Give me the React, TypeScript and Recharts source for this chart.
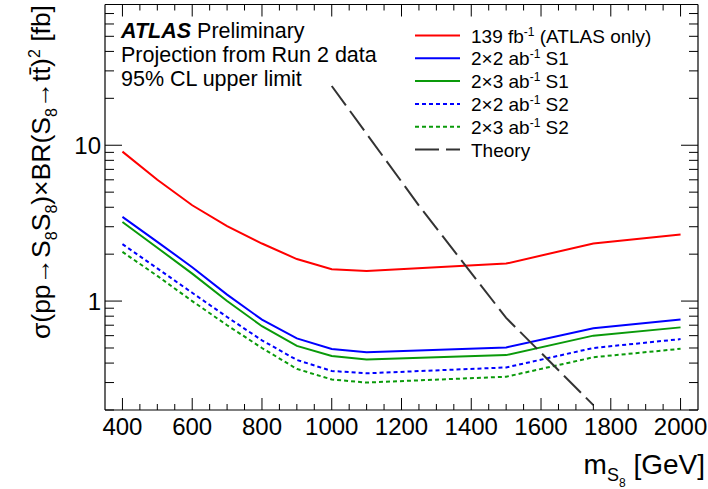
import React from "react";
import { LineChart, Line, XAxis, YAxis } from "recharts";

// signal masses [GeV]
const masses = [400, 500, 600, 700, 800, 900, 1000, 1100, 1500, 1750, 2000];

// expected 95% CL upper limits [fb]
const lim139 = [9.1, 6.0, 4.12, 3.03, 2.34, 1.86, 1.6, 1.56, 1.74, 2.34, 2.67];
const lim2x2S1 = [3.47, 2.4, 1.65, 1.1, 0.76, 0.576, 0.493, 0.469, 0.504, 0.67, 0.763];
const lim2x3S1 = [3.22, 2.2, 1.5, 1.0, 0.69, 0.516, 0.444, 0.422, 0.45, 0.6, 0.678];
const lim2x2S2 = [2.32, 1.62, 1.13, 0.79, 0.56, 0.419, 0.356, 0.344, 0.375, 0.5, 0.57];
const lim2x3S2 = [2.07, 1.45, 1.0, 0.7, 0.5, 0.367, 0.314, 0.3, 0.327, 0.436, 0.494];

// theory prediction
const theoryMasses = [1000, 1250, 1500, 1750];
const theoryXsec = [24, 4.1, 0.78, 0.215];

// axis ticks
const xLabels = [400, 600, 800, 1000, 1200, 1400, 1600, 1800, 2000];
const yLabels = [1, 10];
const yTicks = [
  0.2, 0.3, 0.4, 0.5, 0.6, 0.7, 0.8, 0.9, 1, 2, 3, 4, 5, 6, 7, 8, 9, 10, 20, 30,
  40, 50, 60, 70, 80,
];
const xTicks: number[] = [];
for (let m = 400; m <= 2000; m += 50) xTicks.push(m);

const rows = masses.map((m, i) => ({
  m,
  r139: lim139[i],
  b2x2S1: lim2x2S1[i],
  g2x3S1: lim2x3S1[i],
  b2x2S2: lim2x2S2[i],
  g2x3S2: lim2x3S2[i],
}));
const theoryRows = theoryMasses.map((m, i) => ({ m, th: theoryXsec[i] }));

const GREEN = "#0a9a0a";
const series = [
  { key: "r139", label: ["139 fb", "-1", " (ATLAS only)"], color: "#ff0000", dash: undefined },
  { key: "b2x2S1", label: ["2×2 ab", "-1", " S1"], color: "#0000ff", dash: undefined },
  { key: "g2x3S1", label: ["2×3 ab", "-1", " S1"], color: GREEN, dash: undefined },
  { key: "b2x2S2", label: ["2×2 ab", "-1", " S2"], color: "#0000ff", dash: "4 3" },
  { key: "g2x3S2", label: ["2×3 ab", "-1", " S2"], color: GREEN, dash: "4 3" },
];
const THEORY_DASH = "24 7";

const FONT = "'Liberation Sans', Arial, Helvetica, sans-serif";
const AXIS_LINE = { stroke: "#000", strokeWidth: 1.2 };

// ROOT-style ticks: inward, labels only on the main divisions
const BottomTick = (p: any) => {
  const v = p.payload.value;
  const major = xLabels.includes(v);
  return (
    <g>
      <line x1={p.x} x2={p.x} y1={p.y} y2={p.y - (major ? 12 : 6)} stroke="#000" />
      {major && (
        <text x={p.x} y={p.y + 25} textAnchor="middle" fontSize={24} fontFamily={FONT} fill="#000">
          {v}
        </text>
      )}
    </g>
  );
};
const TopTick = (p: any) => {
  const major = xLabels.includes(p.payload.value);
  return <line x1={p.x} x2={p.x} y1={p.y} y2={p.y + (major ? 12 : 6)} stroke="#000" />;
};
const LeftTick = (p: any) => {
  const v = p.payload.value;
  const major = yLabels.includes(v);
  return (
    <g>
      <line x1={p.x} x2={p.x + (major ? 17 : 9)} y1={p.y} y2={p.y} stroke="#000" />
      {major && (
        <text x={p.x - 4} y={p.y + 8.5} textAnchor="end" fontSize={24} fontFamily={FONT} fill="#000">
          {v}
        </text>
      )}
    </g>
  );
};
const RightTick = (p: any) => {
  const major = yLabels.includes(p.payload.value);
  return <line x1={p.x} x2={p.x - (major ? 17 : 9)} y1={p.y} y2={p.y} stroke="#000" />;
};

// text with sub/superscripts: [text, shift, size] where shift>0 is down
type Seg = [string, number, number?];
const Rich = ({ segs, size }: { segs: Seg[]; size: number }) => {
  let cur = 0;
  return (
    <>
      {segs.map(([t, shift, fs], i) => {
        const dy = shift - cur;
        cur = shift;
        return (
          <tspan key={i} dy={dy} fontSize={fs ?? size}>
            {t}
          </tspan>
        );
      })}
    </>
  );
};

const Legend2 = () => {
  const x0 = 415;
  const y0 = 35.5;
  const pitch = 22.8;
  const all = [
    ...series.map((s) => ({ label: s.label, color: s.color, dash: s.dash })),
    { label: ["Theory"], color: "#333333", dash: THEORY_DASH },
  ];
  return (
    <g fontFamily={FONT}>
      {all.map((s, i) => {
        const y = y0 + i * pitch;
        return (
          <g key={i}>
            <line x1={x0} x2={x0 + 45} y1={y} y2={y} stroke={s.color} strokeWidth={2} strokeDasharray={s.dash} />
            <text x={x0 + 56} y={y + 7} fontSize={19} fill="#000">
              {s.label.length === 1 ? (
                s.label[0]
              ) : (
                <Rich
                  size={19}
                  segs={[
                    [s.label[0], 0],
                    [s.label[1], -7, 12],
                    [s.label[2], 0],
                  ]}
                />
              )}
            </text>
          </g>
        );
      })}
    </g>
  );
};

export default function App() {
  return (
    <div style={{ position: "absolute", left: 0, top: 0, width: 708, height: 489, background: "#fff" }}>
      <LineChart width={708} height={489} data={rows} margin={{ top: -15.5, right: -10, bottom: 0, left: 0 }}>
        <XAxis
          xAxisId="b"
          dataKey="m"
          type="number"
          domain={[350, 2050]}
          allowDataOverflow
          ticks={xTicks}
          interval={0}
          tickSize={0}
          tickMargin={0}
          tickLine={false}
          height={79}
          axisLine={AXIS_LINE}
          tick={<BottomTick />}
        />
        <XAxis
          xAxisId="t"
          orientation="top"
          dataKey="m"
          type="number"
          domain={[350, 2050]}
          allowDataOverflow
          ticks={xTicks}
          interval={0}
          tickSize={0}
          tickMargin={0}
          tickLine={false}
          height={20}
          axisLine={AXIS_LINE}
          tick={<TopTick />}
        />
        <YAxis
          yAxisId="l"
          scale="log"
          type="number"
          domain={[0.2, 80]}
          allowDataOverflow
          ticks={yTicks}
          interval={0}
          tickSize={0}
          tickMargin={0}
          tickLine={false}
          width={105}
          axisLine={AXIS_LINE}
          tick={<LeftTick />}
        />
        <YAxis
          yAxisId="r"
          orientation="right"
          scale="log"
          type="number"
          domain={[0.2, 80]}
          allowDataOverflow
          ticks={yTicks}
          interval={0}
          tickSize={0}
          tickMargin={0}
          tickLine={false}
          width={20}
          axisLine={AXIS_LINE}
          tick={<RightTick />}
        />
        {series.map((s) => (
          <Line
            key={s.key}
            xAxisId="b"
            yAxisId="l"
            type="linear"
            dataKey={s.key}
            stroke={s.color}
            strokeWidth={2}
            strokeDasharray={s.dash}
            dot={false}
            activeDot={false}
            isAnimationActive={false}
          />
        ))}
        <Line
          xAxisId="b"
          yAxisId="l"
          data={theoryRows}
          type="linear"
          dataKey="th"
          stroke="#333333"
          strokeWidth={2}
          strokeDasharray={THEORY_DASH}
          dot={false}
          activeDot={false}
          isAnimationActive={false}
        />

        <g fontFamily={FONT} fill="#000">
          <text x={121} y={38} fontSize={21.5}>
            <tspan fontWeight="bold" fontStyle="italic">ATLAS</tspan>
            <tspan> Preliminary</tspan>
          </text>
          <text x={121} y={62} fontSize={21.5}>
            Projection from Run 2 data
          </text>
          <text x={121} y={86} fontSize={21.5}>
            95% CL upper limit
          </text>
        </g>
        <Legend2 />

        <text x={705} y={474} textAnchor="end" fontFamily={FONT} fontSize={28} fill="#000">
          <Rich
            size={28}
            segs={[
              ["m", 0],
              ["S", 7, 18],
              ["8", 13, 12],
              [" [GeV]", 0],
            ]}
          />
        </text>
        <text transform="rotate(-90)" x={-5} y={50} textAnchor="end" fontFamily={FONT} fontSize={26.5} fill="#000">
          <Rich
            size={26.5}
            segs={[
              ["σ(pp→S", 0],
              ["8", 7, 16],
              ["S", 0],
              ["8", 7, 16],
              [")×BR(S", 0],
              ["8", 7, 16],
              ["→tt\u0304)", 0],
              ["2", -10, 16],
              [" [fb]", 0],
            ]}
          />
        </text>
      </LineChart>
    </div>
  );
}
